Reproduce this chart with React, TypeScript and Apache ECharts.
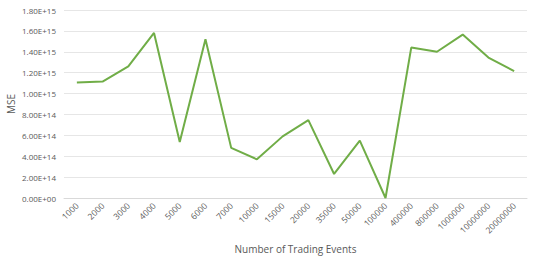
import React, { useEffect, useRef } from "react";
import * as echarts from "echarts";

const categories = ["1000","2000","3000","4000","5000","6000","7000","10000","15000","20000","35000","50000","100000","400000","800000","1000000","10000000","20000000"];
const mseValues = [1.105e15,1.115e15,1.26e15,1.58e15,0.536e15,1.52e15,0.48e15,0.37e15,0.59e15,0.745e15,0.23e15,0.55e15,0,1.44e15,1.40e15,1.565e15,1.345e15,1.215e15];

function fmt(v: number): string {
  if (Math.abs(v) < 1) return "0.00E+00";
  const e = Math.floor(Math.log10(Math.abs(v)) + 1e-9);
  const m = v / Math.pow(10, e);
  return m.toFixed(2) + "E" + (e >= 0 ? "+" : "-") + String(Math.abs(e)).padStart(2, "0");
}

export default function App() {
  const ref = useRef<HTMLDivElement>(null);
  useEffect(() => {
    const chart = echarts.init(ref.current!, null, { renderer: "svg" });
    chart.setOption({
      animation: false,
      textStyle: { fontFamily: "'Open Sans', Calibri, sans-serif" },
      grid: { left: 64, right: 13, top: 10, bottom: 60, containLabel: false, outerBoundsMode: "none" },
      xAxis: {
        type: "category",
        data: categories,
        boundaryGap: true,
        axisLine: { show: true, lineStyle: { color: "#d9d9d9" } },
        axisTick: { show: false },
        axisLabel: { rotate: 45, color: "#595959", fontSize: 8.5, margin: 6, interval: 0 },
        name: "Number of Trading Events",
        nameLocation: "middle",
        nameGap: 46,
        nameMoveOverlap: false,
        nameTextStyle: { color: "#595959", fontSize: 10 },
      },
      yAxis: {
        type: "value",
        min: 0,
        max: 1.8e15,
        interval: 2e14,
        axisLine: { show: false },
        axisTick: { show: false },
        splitLine: { lineStyle: { color: "#e6e6e6" } },
        axisLabel: { color: "#595959", fontSize: 8, formatter: (v: number) => fmt(v), margin: 8 },
        name: "MSE",
        nameLocation: "middle",
        nameGap: 48,
        nameMoveOverlap: false,
        nameRotate: 90,
        nameTextStyle: { color: "#595959", fontSize: 10 },
      },
      series: [
        {
          type: "line",
          data: mseValues,
          symbol: "none",
          lineStyle: { color: "#70AD47", width: 2 },
        },
      ],
    });
    return () => chart.dispose();
  }, []);
  return <div ref={ref} style={{ width: 540, height: 258, position: "absolute", left: 0, top: 0 }} />;
}
